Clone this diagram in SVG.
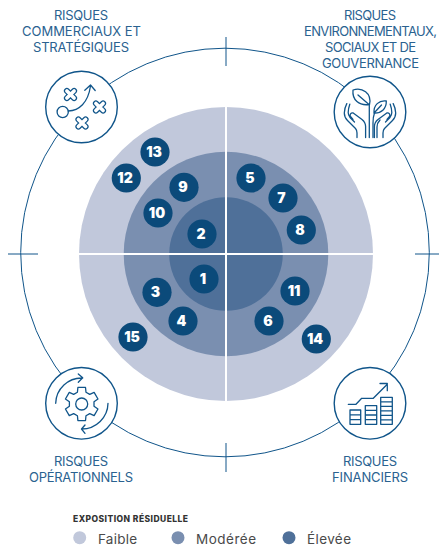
<svg xmlns="http://www.w3.org/2000/svg" width="439" height="549" viewBox="0 0 439 549">
<style>
text{font-family:"Inter","Noto Sans","Liberation Sans",sans-serif}
.lbl{font-size:13px;fill:#2a6290;text-anchor:start}
.num{font-size:14px;font-weight:900;fill:#fff;text-anchor:middle}
.badge{fill:#0b4a7a}
.ring{fill:#fff;stroke:#10558a;stroke-width:1.4}
.ico{fill:none;stroke:#10558a;stroke-width:1.3;stroke-linecap:round;stroke-linejoin:round}
.conn{fill:none;stroke:#10558a;stroke-width:1}
.leg{font-size:13.5px;fill:#4a4a4a}
</style>
<defs>
<g id="xmark">
<path d="M-3.6-3.6L3.6 3.6M3.6-3.6L-3.6 3.6" fill="none" stroke="#10558a" stroke-width="6" stroke-linecap="round"/>
<path d="M-3.6-3.6L3.6 3.6M3.6-3.6L-3.6 3.6" fill="none" stroke="#fff" stroke-width="3.6" stroke-linecap="round"/>
</g>
<path id="hand" d="M346.8 103.6C345.5 106 344.5 109 344.3 113C344.3 116 345.5 118.5 347.5 120.5L355.5 128.5C356.6 129.8 357 131 357 133V137.5M349.8 104.2C348.8 107 348.2 110 348.2 112.5C348.2 114.5 349 116 350 117.5L354.5 122M353 119.5L350.5 116.5C349.4 114.8 350.8 112.5 353.2 113L362 119.5C364.5 121.5 365.6 123.5 365.6 126.5V137.5"/>
</defs>

<g id="quadrants">
<circle cx="226" cy="254" r="147" fill="#c1c8db"/>
<circle cx="226" cy="254" r="102.3" fill="#7a8fb0"/>
<circle cx="226" cy="254" r="56.8" fill="#4f7099"/>
<path d="M226 100V408M72 254H380" stroke="#fff" stroke-width="2" fill="none"/>
</g>

<g id="connectors">
<circle class="conn" cx="225" cy="252.5" r="204.3"/>
<path class="conn" d="M226 37V66M226 443V472M8 254H38M415 254H439" stroke-width="1.1"/>
</g>

<g id="node-commerciaux">
<circle class="ring" cx="81.5" cy="107" r="35.8"/>
<circle class="ico" cx="62.7" cy="112" r="5.6"/>
<path class="ico" d="M68.3 111C79 110.5 88 103 90.5 86M84.8 90.3L90.5 85L95.2 90.5"/>
<use href="#xmark" x="70.5" y="94.5"/>
<use href="#xmark" x="99.5" y="107"/>
<use href="#xmark" x="82" y="123"/>
<text class="lbl" x="54" y="20" textLength="54">RISQUES</text>
<text class="lbl" x="22" y="36" textLength="119">COMMERCIAUX ET</text>
<text class="lbl" x="33" y="52" textLength="96">STRATÉGIQUES</text>
</g>

<g id="node-environnement">
<circle class="ring" cx="370" cy="112" r="35.8"/>
<g class="ico">
<path d="M353 90C362 87 372 93 369.5 104.5C359 106 352 100 353 90ZM358 95L369 104.5"/>
<path d="M386.3 101C379 100 373.5 105 374 113C381 113.5 386.5 109 386.3 101ZM381.5 105L374.5 112.5"/>
<path d="M369.3 105V137.5M373 137.5V123C373 118 373.5 115.5 374.5 113M377 137.5V127C377 124 378 122 380 120"/>
<use href="#hand"/>
<use href="#hand" transform="translate(740 0) scale(-1 1)"/>
</g>
<text class="lbl" x="344" y="20" textLength="52">RISQUES</text>
<text class="lbl" x="304" y="36" textLength="133">ENVIRONNEMENTAUX,</text>
<text class="lbl" x="325" y="52" textLength="91">SOCIAUX ET DE</text>
<text class="lbl" x="322" y="68" textLength="97">GOUVERNANCE</text>
</g>

<g id="node-operationnels">
<circle class="ring" cx="81.5" cy="403.3" r="35.8"/>
<g class="ico" transform="translate(81.7 404)">
<path d="M-4.28-11.75L-3.82-16.56H3.82L4.28-11.75L8.03-9.58L12.43-11.59L16.26-4.97L12.31-2.17V2.17L16.26 4.97L12.43 11.59L8.03 9.58L4.28 11.75L3.82 16.56H-3.82L-4.28 11.75L-8.03 9.58L-12.43 11.59L-16.26 4.97L-12.31 2.17V-2.17L-16.26-4.97L-12.43-11.59L-8.03-9.58Z"/>
<circle r="6"/>
<path d="M-26-.7A26 26 0 0 1 1-26M-3.4-30L1-26.2L-3.4-21.7"/>
<path d="M26.3-.7A26 26 0 0 1 0 25M3.3 21L-.2 25L3.3 29.3"/>
</g>
<text class="lbl" x="54" y="466" textLength="54">RISQUES</text>
<text class="lbl" x="29" y="482" textLength="104">OPÉRATIONNELS</text>
</g>

<g id="node-financiers">
<circle class="ring" cx="370" cy="403.3" r="35.8"/>
<g class="ico">
<path d="M348.3 404.3H356L361.7 398.3H373.3L387.3 384.3M380 383.5H387.3V390.7"/>
<path d="M350 410H360.7V424.3H350ZM350 414.8H360.7M350 419.6H360.7"/>
<path d="M365.3 405.7H376.7V424.3H365.3ZM365.3 410.4H376.7M365.3 415H376.7M365.3 419.6H376.7"/>
<path d="M380.7 397.3H392.3V424.3H380.7ZM380.7 401.8H392.3M380.7 406.3H392.3M380.7 410.8H392.3M380.7 415.3H392.3M380.7 419.8H392.3"/>
</g>
<text class="lbl" x="343" y="466" textLength="54">RISQUES</text>
<text class="lbl" x="332" y="482" textLength="76">FINANCIERS</text>
</g>

<g id="node-1"><circle class="badge" cx="204" cy="279" r="14.6"/><text class="num" x="203" y="284">1</text></g>
<g id="node-2"><circle class="badge" cx="202" cy="234" r="14.6"/><text class="num" x="201" y="239">2</text></g>
<g id="node-3"><circle class="badge" cx="157" cy="292.3" r="14.6"/><text class="num" x="155.5" y="297">3</text></g>
<g id="node-4"><circle class="badge" cx="183" cy="321" r="14.6"/><text class="num" x="181.5" y="326">4</text></g>
<g id="node-5"><circle class="badge" cx="251" cy="178" r="14.6"/><text class="num" x="250" y="183">5</text></g>
<g id="node-6"><circle class="badge" cx="269" cy="321" r="14.6"/><text class="num" x="268" y="326">6</text></g>
<g id="node-7"><circle class="badge" cx="283" cy="198" r="14.6"/><text class="num" x="281.5" y="203">7</text></g>
<g id="node-8"><circle class="badge" cx="301.3" cy="230" r="14.6"/><text class="num" x="300" y="235">8</text></g>
<g id="node-9"><circle class="badge" cx="184" cy="187.3" r="14.6"/><text class="num" x="183" y="192.3">9</text></g>
<g id="node-10"><circle class="badge" cx="158" cy="213" r="14.6"/><text class="num" x="157" y="218">10</text></g>
<g id="node-11"><circle class="badge" cx="295" cy="291" r="14.6"/><text class="num" x="294" y="296">11</text></g>
<g id="node-12"><circle class="badge" cx="126.3" cy="178" r="14.6"/><text class="num" x="125" y="183">12</text></g>
<g id="node-13"><circle class="badge" cx="155" cy="152" r="14.6"/><text class="num" x="154" y="157">13</text></g>
<g id="node-14"><circle class="badge" cx="316.3" cy="339" r="14.6"/><text class="num" x="315" y="344">14</text></g>
<g id="node-15"><circle class="badge" cx="133" cy="337" r="14.6"/><text class="num" x="132" y="342">15</text></g>

<g id="legend">
<text x="73" y="522" font-size="8.5" font-weight="800" fill="#333" textLength="115">EXPOSITION RÉSIDUELLE</text>
<circle cx="79.7" cy="537.7" r="6.5" fill="#c1c8db"/>
<text class="leg" x="98" y="544" textLength="39">Faible</text>
<circle cx="178" cy="537.7" r="6.5" fill="#7a8fb0"/>
<text class="leg" x="196" y="544" textLength="60">Modérée</text>
<circle cx="289" cy="537.7" r="6.5" fill="#4f7099"/>
<text class="leg" x="307" y="544" textLength="44">Élevée</text>
</g>
</svg>
